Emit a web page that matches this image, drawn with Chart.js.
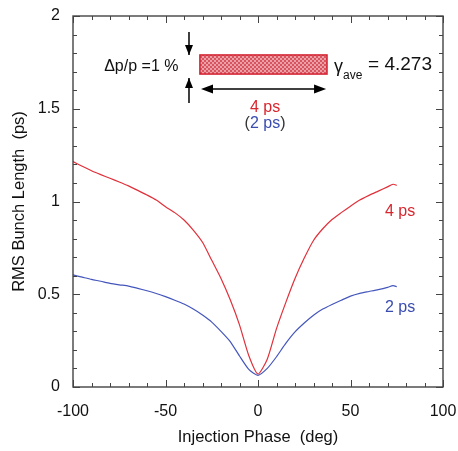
<!DOCTYPE html>
<html><head><meta charset="utf-8">
<script src="https://cdn.jsdelivr.net/npm/chart.js@4/dist/chart.umd.min.js"></script>
<style>html,body{margin:0;padding:0;background:#fff}</style>
</head><body>
<canvas id="c" width="458" height="451"></canvas>
<script>
const phase    = [-100,-95,-90,-85,-80,-75,-70,-65,-60,-55,-50,-45,-40,-35,-30,-25,-20,-15,-10,-5,0,5,10,15,20,25,30,35,40,45,50,55,60,65,70,73,75];
const bunch4ps = [1.215,1.19,1.166,1.145,1.125,1.105,1.084,1.06,1.035,1.008,0.972,0.94,0.90,0.846,0.78,0.683,0.585,0.47,0.335,0.17,0.07,0.15,0.315,0.455,0.585,0.695,0.79,0.853,0.903,0.94,0.975,1.008,1.033,1.056,1.079,1.093,1.087];
const bunch2ps = [0.604,0.592,0.580,0.570,0.559,0.551,0.544,0.532,0.519,0.504,0.487,0.468,0.447,0.42,0.388,0.35,0.30,0.245,0.167,0.095,0.063,0.10,0.163,0.235,0.297,0.345,0.387,0.42,0.445,0.468,0.49,0.505,0.515,0.525,0.537,0.546,0.541];
const xTickValues = [-100,-50,0,50,100];
const yTickValues = [0,0.5,1,1.5,2];
const seriesNames = ['4 ps','2 ps'];

const RED='#d8262e', BLUE='#3a4cb0', FONT='"Liberation Sans", Arial, sans-serif';

const framePlugin = {
  id:'frame',
  afterDraw(chart){
    const ctx=chart.ctx, a=chart.chartArea, xs=chart.scales.x, ys=chart.scales.y;
    ctx.save();
    ctx.strokeStyle='#444'; ctx.lineWidth=1.4;
    ctx.strokeRect(a.left,a.top,a.right-a.left,a.bottom-a.top);
    ctx.lineWidth=1;
    ctx.beginPath();
    for(let v=xs.min; v<=xs.max+1e-9; v+=10){
      const p=Math.round(xs.getPixelForValue(v))+0.5;
      const L = xTickValues.includes(v)?7:4;
      ctx.moveTo(p,a.bottom); ctx.lineTo(p,a.bottom-L);
      ctx.moveTo(p,a.top); ctx.lineTo(p,a.top+L);
    }
    for(let i=0;i<=20;i++){
      const v=i/10;
      const p=Math.round(ys.getPixelForValue(v))+0.5;
      const L = (i%5===0)?7:4;
      ctx.moveTo(a.left,p); ctx.lineTo(a.left+L,p);
      ctx.moveTo(a.right,p); ctx.lineTo(a.right-L,p);
    }
    ctx.stroke();

    const X=v=>xs.getPixelForValue(v), Y=v=>ys.getPixelForValue(v);
    ctx.textBaseline='middle';
    ctx.font='16px '+FONT; ctx.fillStyle='#111'; ctx.textAlign='right';
    ctx.fillText('\u0394p/p =1 %', X(-43), Y(1.725));
    // box
    const bx0=X(-31.4), bx1=X(37.3), by0=Y(1.79), by1=Y(1.687);
    const pc=document.createElement('canvas'); pc.width=4; pc.height=4;
    const pctx=pc.getContext('2d');
    pctx.fillStyle='#eaa0a6'; pctx.fillRect(0,0,4,4);
    pctx.fillStyle='#d8545e'; pctx.fillRect(0,0,2,2); pctx.fillRect(2,2,2,2);
    ctx.fillStyle=ctx.createPattern(pc,'repeat');
    ctx.fillRect(bx0,by0,bx1-bx0,by1-by0);
    ctx.strokeStyle='#d42030'; ctx.lineWidth=1.5;
    ctx.strokeRect(bx0,by0,bx1-bx0,by1-by0);
    // arrows
    ctx.strokeStyle='#000'; ctx.fillStyle='#000'; ctx.lineWidth=1.5;
    function vArrow(x,y0,y1){
      ctx.beginPath(); ctx.moveTo(x,y0); ctx.lineTo(x,y1); ctx.stroke();
      const d=Math.sign(y1-y0);
      ctx.beginPath(); ctx.moveTo(x,y1); ctx.lineTo(x-4,y1-d*10); ctx.lineTo(x+4,y1-d*10); ctx.closePath(); ctx.fill();
    }
    const ax=X(-37.3);
    vArrow(ax,Y(1.914),Y(1.79));
    vArrow(ax,Y(1.531),Y(1.666));
    const hy=Y(1.606), hx0=X(-30.8), hx1=X(36.8);
    ctx.beginPath(); ctx.moveTo(hx0+5,hy); ctx.lineTo(hx1-5,hy); ctx.stroke();
    ctx.beginPath(); ctx.moveTo(hx0,hy); ctx.lineTo(hx0+12,hy-4.5); ctx.lineTo(hx0+12,hy+4.5); ctx.closePath(); ctx.fill();
    ctx.beginPath(); ctx.moveTo(hx1,hy); ctx.lineTo(hx1-12,hy-4.5); ctx.lineTo(hx1-12,hy+4.5); ctx.closePath(); ctx.fill();
    // gamma
    ctx.textAlign='left'; ctx.fillStyle='#111';
    ctx.font='18px '+FONT;
    let gx=X(41.1);
    ctx.fillText('\u03B3', gx, Y(1.725));
    gx+=ctx.measureText('\u03B3').width;
    ctx.font='12px '+FONT;
    ctx.fillText('ave', gx, Y(1.68));
    ctx.font='19px '+FONT;
    ctx.fillText('= 4.273', X(59.5), Y(1.735));
    // 4 ps / (2 ps)
    ctx.font='16px '+FONT; ctx.textAlign='center';
    ctx.fillStyle=RED; ctx.fillText(seriesNames[0], X(3.8), Y(1.504));
    const t1='(', t2=seriesNames[1], t3=')';
    const w1=ctx.measureText(t1).width, w2=ctx.measureText(t2).width, w3=ctx.measureText(t3).width;
    let sx=X(3.8)-(w1+w2+w3)/2; ctx.textAlign='left';
    ctx.fillStyle='#333'; ctx.fillText(t1,sx,Y(1.418));
    ctx.fillStyle=BLUE; ctx.fillText(t2,sx+w1,Y(1.418));
    ctx.fillStyle='#333'; ctx.fillText(t3,sx+w1+w2,Y(1.418));
    // curve labels
    ctx.fillStyle=RED; ctx.fillText(seriesNames[0], X(68.6), Y(0.945));
    ctx.fillStyle=BLUE; ctx.fillText(seriesNames[1], X(68.6), Y(0.426));
    ctx.restore();
  }
};

new Chart(document.getElementById('c'),{
  type:'line',
  data:{datasets:[
    {label:seriesNames[0], data:phase.map((x,i)=>({x,y:bunch4ps[i]})), borderColor:'#e0303a', borderWidth:1.2, pointRadius:0, tension:0.2, fill:false},
    {label:seriesNames[1], data:phase.map((x,i)=>({x,y:bunch2ps[i]})), borderColor:'#4456bc', borderWidth:1.2, pointRadius:0, tension:0.2, fill:false}
  ]},
  options:{
    responsive:false, animation:false, devicePixelRatio:1,
    layout:{padding:{top:16,right:15,left:0,bottom:0}},
    plugins:{legend:{display:false},tooltip:{enabled:false}},
    scales:{
      x:{type:'linear',min:-100,max:100,
        grid:{display:false}, border:{display:false},
        afterBuildTicks(s){ s.ticks=xTickValues.map(v=>({value:v})); },
        afterFit(s){ s.height=64; s.paddingLeft=0; s.paddingRight=0; },
        ticks:{color:'#111',font:{size:16,family:FONT},padding:7,maxRotation:0,autoSkip:false,callback:v=>String(v)},
        title:{display:true,text:'Injection Phase  (deg)',color:'#111',font:{size:16.5,family:FONT},padding:{top:0,bottom:4}}
      },
      y:{type:'linear',min:0,max:2,
        grid:{display:false}, border:{display:false},
        afterBuildTicks(s){ s.ticks=yTickValues.map(v=>({value:v})); },
        afterFit(s){ s.width=73; s.paddingTop=0; s.paddingBottom=0; },
        ticks:{color:'#111',font:{size:16,family:FONT},padding:5,autoSkip:false,callback:v=>String(v)},
        title:{display:true,text:'RMS Bunch Length  (ps)',color:'#111',font:{size:16.5,family:FONT},padding:{top:10,bottom:0}}
      }
    }
  },
  plugins:[framePlugin]
});
</script>
</body></html>
